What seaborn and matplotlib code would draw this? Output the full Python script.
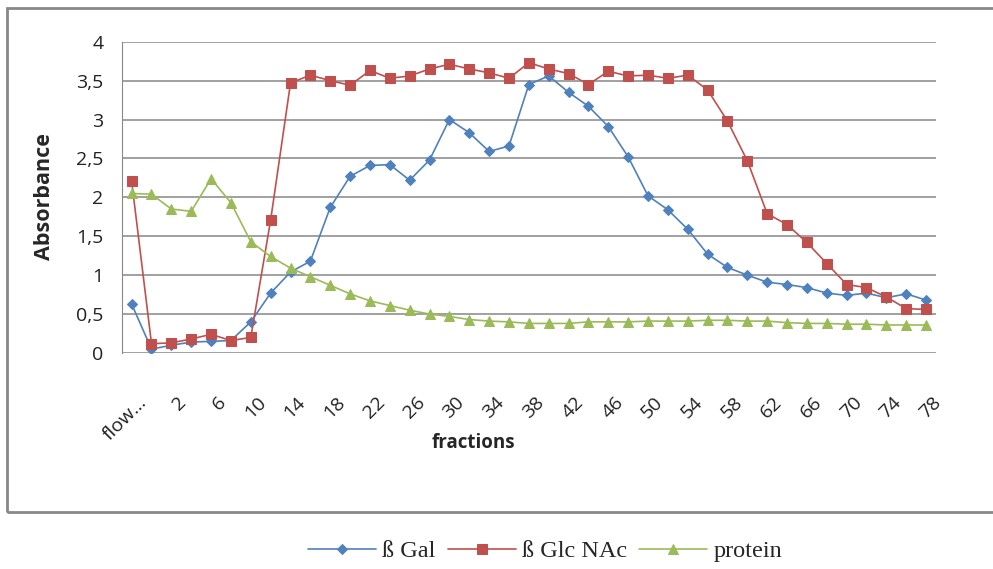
import matplotlib
matplotlib.use("Agg")
import matplotlib.pyplot as plt
from matplotlib.patches import Rectangle
from matplotlib.transforms import ScaledTranslation
import pandas as pd
import seaborn as sns

# fractions collected from the column (first one is the flow-through)
fractions = ["flow…", "1"] + [str(f) for f in range(2, 80, 2)]

beta_gal = [0.63, 0.05, 0.10, 0.14, 0.15, 0.16, 0.40, 0.77, 1.04, 1.18,
            1.87, 2.27, 2.41, 2.42, 2.22, 2.48, 3.00, 2.83, 2.59, 2.66,
            3.45, 3.56, 3.35, 3.17, 2.91, 2.52, 2.02, 1.84, 1.59, 1.27,
            1.10, 1.00, 0.91, 0.88, 0.84, 0.77, 0.74, 0.77, 0.71, 0.76,
            0.68]
beta_glcnac = [2.21, 0.12, 0.13, 0.18, 0.24, 0.16, 0.20, 1.71, 3.47, 3.57,
               3.50, 3.44, 3.63, 3.53, 3.56, 3.65, 3.71, 3.65, 3.60, 3.53,
               3.73, 3.65, 3.59, 3.45, 3.62, 3.56, 3.57, 3.53, 3.57, 3.38,
               2.98, 2.47, 1.79, 1.65, 1.42, 1.15, 0.88, 0.84, 0.72, 0.57,
               0.56]
protein = [2.05, 2.04, 1.85, 1.82, 2.24, 1.93, 1.43, 1.24, 1.09, 0.98,
           0.87, 0.76, 0.67, 0.61, 0.55, 0.50, 0.47, 0.43, 0.41, 0.40,
           0.38, 0.38, 0.38, 0.40, 0.40, 0.40, 0.41, 0.41, 0.41, 0.42,
           0.42, 0.41, 0.41, 0.39, 0.38, 0.38, 0.37, 0.37, 0.36, 0.36,
           0.36]

series_names = ["ß Gal", "ß Glc NAc", "protein"]
y_ticks = [0, 0.5, 1, 1.5, 2, 2.5, 3, 3.5, 4]
y_tick_labels = ["0", "0,5", "1", "1,5", "2", "2,5", "3", "3,5", "4"]

df = pd.DataFrame({
    "pos": list(range(len(fractions))) * 3,
    "absorbance": beta_gal + beta_glcnac + protein,
    "series": [s for s in series_names for _ in fractions],
})

sns.set_style("white")
plt.rcParams["font.family"] = ["Open Sans", "DejaVu Sans"]

W, H = 993, 569
fig = plt.figure(figsize=(W / 100, H / 100), dpi=100)
ax = fig.add_axes([121.7 / W, 1 - 353 / H, (936 - 121.7) / W, (353 - 41.7) / H])

palette = {"ß Gal": "#4F81BD", "ß Glc NAc": "#C0504D", "protein": "#9BBB59"}
markers = {"ß Gal": "D", "ß Glc NAc": "s", "protein": "^"}
sizes = {"ß Gal": 5.5, "ß Glc NAc": 6.5, "protein": 7}

for name in series_names:
    sub = df[df["series"] == name]
    sns.lineplot(data=sub, x="pos", y="absorbance", ax=ax, color=palette[name],
                 marker=markers[name], markersize=sizes[name],
                 markeredgecolor=palette[name], linewidth=1.2, label=name,
                 legend=False)

ax.set_xlim(-0.5, len(fractions) - 0.5)
ax.set_ylim(0, 4)
ax.set_yticks(y_ticks)
ax.set_yticklabels(y_tick_labels, fontsize=14, color="#222222")
ax.set_xticks(range(0, len(fractions), 2))
ax.set_xticklabels(fractions[::2], rotation=45, ha="right",
                   rotation_mode="anchor", fontsize=14, color="#222222")
ax.tick_params(axis="x", length=0, pad=29)
ax.tick_params(axis="y", length=7, width=1, color="#888888", pad=6)
shift = ScaledTranslation(6 / 100, 0, fig.dpi_scale_trans)
for lbl in ax.get_xticklabels():
    lbl.set_transform(lbl.get_transform() + shift)
ax.grid(axis="y", color="#a0a0a0", linewidth=1.4)
ax.set_axisbelow(True)
for side in ["top", "right", "bottom"]:
    ax.spines[side].set_visible(False)
ax.spines["left"].set_color("#888888")
ax.set_xlabel("")
ax.set_ylabel("")

fig.text(45 / W, 1 - 197 / H, "Absorbance", rotation=90, ha="center",
         va="center", fontsize=15.5, fontweight="bold")
fig.text(473 / W, 1 - 443 / H, "fractions", ha="center", va="center",
         fontsize=13.5, fontweight="bold")

# outer chart frame
fig.patches.append(Rectangle((7 / W, 1 - 512 / H), 1.0, (512 - 8) / H,
                             transform=fig.transFigure, fill=False,
                             edgecolor="#888888", linewidth=2))

handles, labels = ax.get_legend_handles_labels()
fig.legend(handles, labels, loc="center", bbox_to_anchor=(545 / W, 1 - 551 / H),
           ncol=3, frameon=False, prop={"family": "Liberation Serif", "size": 17.5},
           handlelength=2.8, columnspacing=0.5, handletextpad=0.25)

fig.savefig("out.png", dpi=100)
